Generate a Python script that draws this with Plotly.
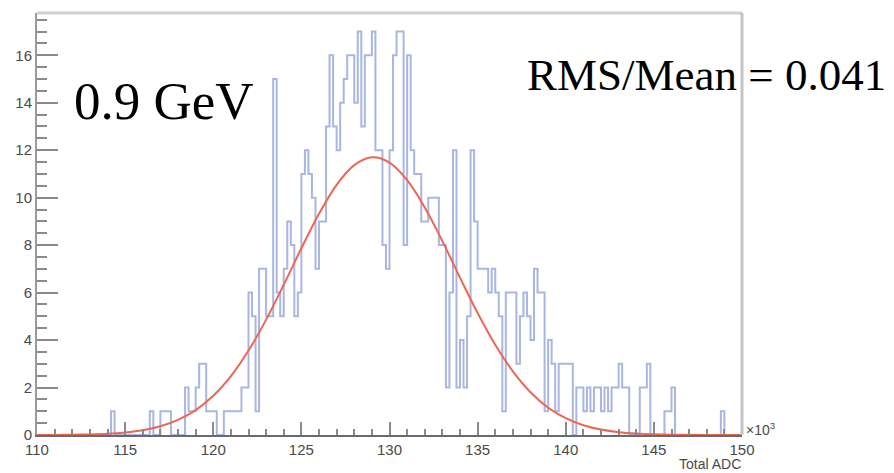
import plotly.graph_objects as go

# ---------------- data ----------------
bin_start = 110.0          # x10^3 Total ADC
bin_width = 0.2
counts = (
    [0] * 21 + [1] + [0] * 10 + [1] + [0, 0] + [1, 1, 1] + [0, 0, 0, 0]
    + [2, 1, 1, 2, 3, 3, 1, 1, 1, 0, 0, 1, 1, 1, 1, 1, 2, 2]          # j42-59
    + [6, 5, 1, 7, 7, 5, 5, 15, 6, 5, 7, 9, 8, 5, 6, 11, 12, 11, 10, 7]  # j60-79
    + [9, 9, 13, 16, 13, 12, 14, 15, 16, 16, 14, 17, 13, 16, 16, 17, 12, 12, 8, 7]  # j80-99
    + [12, 16, 17, 17, 8, 16, 12, 11, 11, 9, 9, 10, 10, 10, 8, 8, 2, 6, 12, 2]  # j100-119
    + [4, 2, 5, 12, 9, 7, 7, 7, 6, 7, 6, 5, 1, 6, 6, 6, 3, 5, 6, 5]   # j120-139
    + [4, 7, 6, 6, 1, 4, 3, 1, 3, 3, 3, 3, 0, 2, 2, 1, 2, 1, 2, 2]    # j140-159
    + [1, 2, 1, 2, 2, 3, 2, 2, 0, 0, 0, 2, 2, 3, 0, 0, 0, 0, 1, 1]    # j160-179
    + [2] + [0] * 13 + [1] + [0] * 5                                    # j180-199
)

fit_x = list(range(110, 151))
fit_y = [0.002, 0.005, 0.012, 0.026, 0.053, 0.107, 0.20, 0.37, 0.64, 1.05,
         1.65, 2.48, 3.56, 4.86, 6.33, 7.87, 9.32, 10.54, 11.37, 11.70,
         11.48, 10.74, 9.59, 8.17, 6.63, 5.14, 3.80, 2.68, 1.80, 1.15,
         0.71, 0.41, 0.23, 0.12, 0.062, 0.030, 0.013, 0.006, 0.002, 0.001, 0.0]

label_energy = "0.9 GeV"
label_res = "RMS/Mean = 0.041"
x_title = "Total ADC"

# ---------------- figure ----------------
edges = [bin_start + i * bin_width for i in range(len(counts) + 1)]
step_y = counts + [counts[-1]]

fig = go.Figure()
fig.add_trace(go.Scatter(x=edges, y=step_y, mode="lines",
                         line=dict(shape="hv", color="#a9b6e2", width=2),
                         hoverinfo="skip"))
fig.add_trace(go.Scatter(x=fit_x, y=fit_y, mode="lines",
                         line=dict(shape="spline", color="#ee6650", width=2),
                         hoverinfo="skip"))

# page body has an 8px margin: work in page pixels and shift
OFF = 8
W, H = 894, 473
# desired plot area in page pixels: x 37..742, y 13..435
L = 37 - OFF
T = 13 - OFF
pw, ph = 742 - 37, 435 - 13
R = W - L - pw
B = H - T - ph

def px(x):
    return (x - OFF - L) / pw

def py(y):
    return (T + ph - (y - OFF)) / ph

tick_font = dict(family="Liberation Sans, Arial, sans-serif", size=15, color="#4a4a4a")

fig.update_layout(
    width=W, height=H,
    margin=dict(l=L, r=R, t=T, b=B, pad=0),
    plot_bgcolor="white", paper_bgcolor="white",
    showlegend=False,
    xaxis=dict(range=[110, 150], tick0=110, dtick=5, ticks="inside", ticklen=13,
               tickcolor="#8a8a8a", tickwidth=1.5, showline=True, linecolor="#6a6a6a",
               linewidth=1.5, showgrid=False, zeroline=False, tickfont=tick_font,
               automargin=False,
               minor=dict(ticks="inside", ticklen=6, dtick=1, tick0=110,
                          tickcolor="#8a8a8a", tickwidth=1.5, showgrid=False)),
    yaxis=dict(range=[0, 17.78], tick0=0, dtick=2, ticks="inside", ticklen=21,
               tickcolor="#8a8a8a", tickwidth=1.5, showline=True, linecolor="#9a9a9a",
               linewidth=2, showgrid=False, zeroline=False, tickfont=tick_font,
               automargin=False,
               minor=dict(ticks="inside", ticklen=10, dtick=0.5, tick0=0,
                          tickcolor="#8a8a8a", tickwidth=1.5, showgrid=False)),
)

# frame (top and right)
fig.add_shape(type="line", xref="paper", yref="paper", x0=0, x1=1, y0=1, y1=1,
              line=dict(color="#cfcfcf", width=3))
fig.add_shape(type="line", xref="paper", yref="paper", x0=1, x1=1, y0=0, y1=1,
              line=dict(color="#c4c4c4", width=3))

serif = "Liberation Serif, Times New Roman, serif"
sans = "Liberation Sans, Arial, sans-serif"
fig.add_annotation(text=label_energy, xref="paper", yref="paper",
                   x=px(72), y=py(101), xanchor="left", yanchor="middle",
                   showarrow=False, font=dict(family=serif, size=53, color="black"))
fig.add_annotation(text=label_res, xref="paper", yref="paper",
                   x=px(525), y=py(75), xanchor="left", yanchor="middle",
                   showarrow=False, font=dict(family=serif, size=45, color="black"))
fig.add_annotation(text="×10<sup>3</sup>", xref="paper", yref="paper",
                   x=px(744), y=py(429), xanchor="left", yanchor="middle",
                   showarrow=False, font=dict(family=sans, size=14, color="#4a4a4a"))
fig.add_annotation(text=x_title, xref="paper", yref="paper",
                   x=px(743), y=py(464), xanchor="right", yanchor="middle",
                   showarrow=False, font=dict(family=sans, size=14, color="#4a4a4a"))

fig.write_html("out.html")
